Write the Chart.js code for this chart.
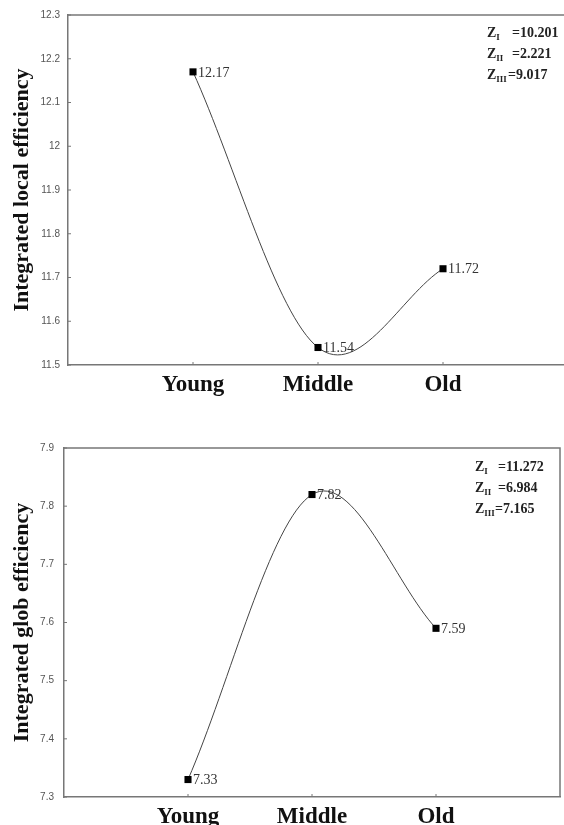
<!DOCTYPE html>
<html>
<head>
<meta charset="utf-8">
<script src="https://cdn.jsdelivr.net/npm/chart.js@4.4.1/dist/chart.umd.min.js"></script>
<style>
  html, body { margin: 0; padding: 0; background: #fff; }
  body { width: 564px; height: 825px; position: relative; overflow: hidden; }
  .box { position: absolute; left: 0; width: 564px; }
  .ann { position: absolute; font-family: "Liberation Serif", "Times New Roman", serif; font-weight: bold; font-size: 14px; line-height: 21px; color: #222; white-space: nowrap; }
  .ann .z { display: inline-block; }
  .ann sub { font-size: 9px; vertical-align: -3px; line-height: 0; }
</style>
</head>
<body>
<div class="box" style="top:0;height:400px;"><canvas id="c1"></canvas></div>
<div class="box" style="top:400px;height:425px;"><canvas id="c2"></canvas></div>
<div class="ann" style="left:487px;top:22px;">
  <div><span class="z" style="width:25px">Z<sub>I</sub></span>=10.201</div>
  <div><span class="z" style="width:25px">Z<sub>II</sub></span>=2.221</div>
  <div><span class="z" style="width:21px">Z<sub>III</sub></span>=9.017</div>
</div>
<div class="ann" style="left:475px;top:456px;">
  <div><span class="z" style="width:23px">Z<sub>I</sub></span>=11.272</div>
  <div><span class="z" style="width:23px">Z<sub>II</sub></span>=6.984</div>
  <div><span class="z" style="width:20px">Z<sub>III</sub></span>=7.165</div>
</div>
<script>
const categories = ["Young", "Middle", "Old"];
const localEfficiency = [12.17, 11.54, 11.72];
const globEfficiency = [7.33, 7.82, 7.59];
const localTitle = "Integrated local efficiency";
const globTitle = "Integrated glob efficiency";
const localRange = [11.5, 12.3];
const globRange = [7.3, 7.9];

// Excel-style smoothing: control points at 1/6 of the neighbour chord
const smoothPlugin = {
  id: 'excelSmooth',
  beforeDatasetsDraw(chart) {
    chart.data.datasets.forEach((d, di) => {
      const meta = chart.getDatasetMeta(di);
      const line = meta.dataset;
      line.updateControlPoints(chart.chartArea, 'x');
      const pts = meta.data;
      const n = pts.length;
      for (let i = 0; i < n; i++) {
        const p = pts[i], prev = pts[i - 1], next = pts[i + 1];
        if (prev && next) {
          const dx = (next.x - prev.x) / 6, dy = (next.y - prev.y) / 6;
          p.cp1x = p.x - dx; p.cp1y = p.y - dy;
          p.cp2x = p.x + dx; p.cp2y = p.y + dy;
        } else if (next) {
          p.cp1x = p.x; p.cp1y = p.y;
          p.cp2x = p.x + (next.x - p.x) / 3; p.cp2y = p.y + (next.y - p.y) / 3;
        } else if (prev) {
          p.cp1x = p.x - (p.x - prev.x) / 3; p.cp1y = p.y - (p.y - prev.y) / 3;
          p.cp2x = p.x; p.cp2y = p.y;
        }
      }
    });
  }
};

const framePlugin = {
  id: 'frame',
  afterDatasetsDraw(chart, args, opts) {
    const ctx = chart.ctx;
    const a = chart.chartArea;
    ctx.save();
    ctx.strokeStyle = '#777';
    ctx.lineWidth = 1.5;
    ctx.beginPath();
    ctx.moveTo(a.left, a.top);
    ctx.lineTo(a.right, a.top);
    if (opts.right) { ctx.lineTo(a.right, a.bottom); }
    ctx.stroke();
    ctx.lineWidth = 1;
    const y = chart.scales.y, x = chart.scales.x;
    y.ticks.forEach(t => {
      const py = y.getPixelForValue(t.value);
      ctx.beginPath(); ctx.moveTo(a.left, py); ctx.lineTo(a.left + 3, py); ctx.stroke();
    });
    x.ticks.forEach(t => {
      const px = x.getPixelForValue(t.value);
      ctx.beginPath(); ctx.moveTo(px, a.bottom); ctx.lineTo(px, a.bottom - 3); ctx.stroke();
    });
    ctx.fillStyle = '#333';
    ctx.font = '14px "Liberation Serif", "Times New Roman", serif';
    ctx.textAlign = 'left';
    ctx.textBaseline = 'middle';
    const meta = chart.getDatasetMeta(0);
    const ds = chart.data.datasets[0].data;
    meta.data.forEach((pt, i) => {
      ctx.fillText(ds[i].y.toFixed(2), pt.x + 5, pt.y + 1);
    });
    ctx.restore();
  }
};

function makeChart(id, values, range, title, opt) {
  const data = values.map((v, i) => ({ x: i + 1, y: v }));
  return new Chart(document.getElementById(id), {
    type: 'line',
    data: { datasets: [{
      data: data,
      borderColor: '#444',
      borderWidth: 1,
      tension: 0.4,
      pointStyle: 'rect',
      pointRadius: 5,
      pointBackgroundColor: '#000',
      pointBorderColor: '#000',
      pointBorderWidth: 0,
      fill: false
    }]},
    options: {
      responsive: true,
      maintainAspectRatio: false,
      animation: false,
      layout: { autoPadding: false, padding: { top: opt.padTop, right: opt.padRight, left: 0, bottom: 0 } },
      plugins: { legend: { display: false }, tooltip: { enabled: false }, frame: { right: opt.rightBorder } },
      scales: {
        x: {
          type: 'linear',
          min: 0,
          max: opt.xMax,
          afterBuildTicks: (s) => { s.ticks = categories.map((c, i) => ({ value: i + 1 })); },
          afterFit: (s) => { s.height = opt.xHeight; },
          grid: { display: true, drawOnChartArea: false, drawTicks: false },
          border: { display: true, color: '#777', width: 1.5 },
          ticks: {
            autoSkip: false,
            maxRotation: 0,
            padding: 6,
            color: '#111',
            font: { family: '"Liberation Serif", "Times New Roman", serif', size: 23, weight: 'bold' },
            callback: (v) => categories[Math.round(v) - 1] || ''
          }
        },
        y: {
          min: range[0],
          max: range[1],
          afterFit: (s) => { s.width = opt.yWidth; },
          grid: { display: true, drawOnChartArea: false, drawTicks: false },
          border: { display: true, color: '#777', width: 1.5 },
          ticks: {
            stepSize: 0.1,
            padding: opt.tickPad,
            color: '#555',
            font: { family: '"Liberation Sans", Arial, sans-serif', size: 10 },
            callback: (v) => String(Math.round(v * 10) / 10)
          },
          title: {
            display: true,
            text: title,
            color: '#111',
            padding: { top: 9, bottom: 0 },
            font: { family: '"Liberation Serif", "Times New Roman", serif', size: 22, weight: 'bold' }
          }
        }
      }
    },
    plugins: [smoothPlugin, framePlugin]
  });
}

makeChart('c1', localEfficiency, localRange, localTitle,
  { padTop: 15, padRight: 0, xMax: 3.968, xHeight: 35, yWidth: 68, tickPad: 8, rightBorder: false });
makeChart('c2', globEfficiency, globRange, globTitle,
  { padTop: 48, padRight: 4, xMax: 4, xHeight: 28, yWidth: 64, tickPad: 10, rightBorder: true });
</script>
</body>
</html>
